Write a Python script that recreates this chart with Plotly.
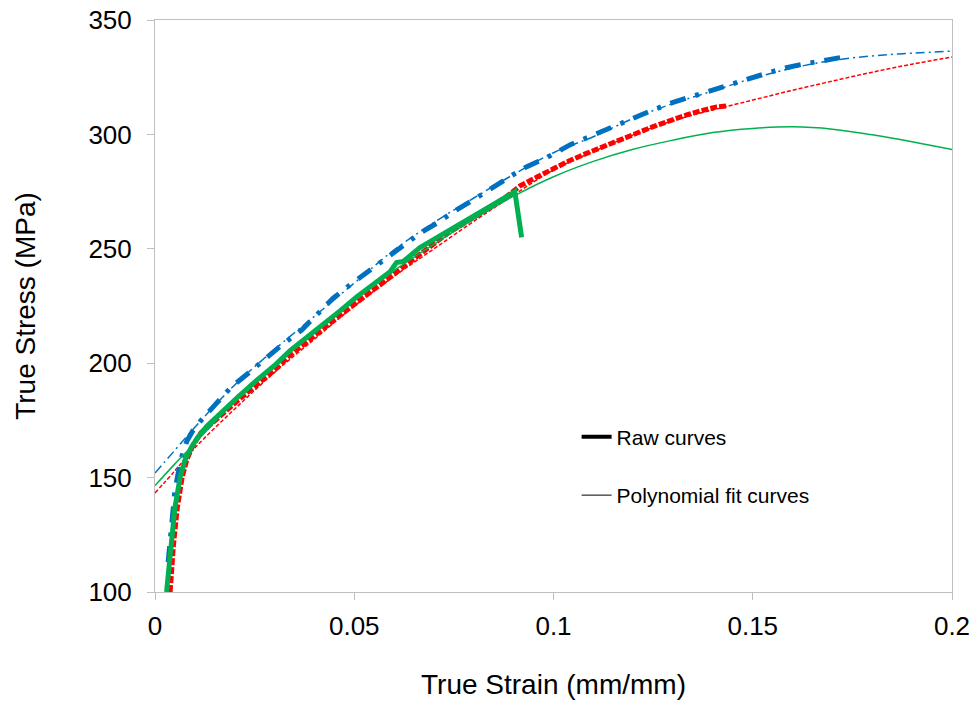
import plotly.graph_objects as go

# ---------- data ----------
green_raw_x = [0.0029, 0.0039, 0.0050, 0.0063, 0.0075, 0.0092, 0.0109, 0.0130, 0.0171, 0.0210,
               0.0255, 0.0300, 0.0339, 0.0380, 0.0422, 0.0465, 0.0506, 0.0550, 0.0590, 0.0606,
               0.0623, 0.0665, 0.0700, 0.0732, 0.0760, 0.0790, 0.0815, 0.0840, 0.0870, 0.0899,
               0.0903, 0.0920]
green_raw_y = [100, 120, 137, 150, 157.5, 163.5, 168, 172.5, 179.5, 185.5,
               192.5, 199, 205.5, 211, 217, 223, 229, 234.5, 240, 244,
               244.5, 250.5, 254, 257.5, 260, 263, 265.5, 268.5, 271, 274.5,
               275, 255]

red_raw_x = [0.0038, 0.0046, 0.0056, 0.0068, 0.0080, 0.0095, 0.0115, 0.0140, 0.0171, 0.0210,
             0.0255, 0.0300, 0.0339, 0.0380, 0.0422, 0.0465, 0.0506, 0.0550, 0.0590, 0.0630,
             0.0665, 0.0700, 0.0732, 0.0760, 0.0790, 0.0840, 0.0880, 0.0916, 0.0960, 0.1000,
             0.1040, 0.1083, 0.1125, 0.1167, 0.1210, 0.1250, 0.1290, 0.1334, 0.1370, 0.1410,
             0.1438]
red_raw_y = [100, 120, 137, 150, 158, 164, 169.5, 173.5, 178, 184,
             190.5, 197, 203.5, 209.5, 215, 221, 226.5, 232.5, 238, 243.5,
             248, 252.5, 256.5, 259.5, 262.5, 268, 272.5, 277.5, 281.5, 285.3,
             288.5, 291.7, 294.8, 297.6, 300.6, 303.4, 306, 308.5, 310.3, 312,
             312.5]

blue_raw_x = [0.0033, 0.0042, 0.0050, 0.0065, 0.0080, 0.0095, 0.0113, 0.0150, 0.0192, 0.0234,
              0.0275, 0.0318, 0.0368, 0.0410, 0.0447, 0.0489, 0.0530, 0.0573, 0.0620, 0.0665,
              0.0710, 0.0749, 0.0800, 0.0849, 0.0890, 0.0933, 0.0990, 0.1041, 0.1095, 0.1150,
              0.1200, 0.1250, 0.1300, 0.1359, 0.1410, 0.1460, 0.1515, 0.1570, 0.1620, 0.1670,
              0.1700, 0.1727]
blue_raw_y = [113, 130, 144.5, 158, 166, 170.5, 174.5, 181.7, 189.7, 195.6,
              202, 208, 214.5, 221.5, 228.4, 234.2, 239.5, 245.1, 251, 256.8,
              261.5, 266.2, 271.5, 277.1, 281.5, 285.9, 290.5, 295.4, 299.5, 303.4,
              307, 310.7, 314, 317.2, 320, 322.9, 325.8, 328.6, 330.5, 332,
              332.5, 333.8]

fit_x = [0.0, 0.005, 0.01, 0.02, 0.03, 0.04, 0.05, 0.06, 0.07, 0.08, 0.09, 0.10,
         0.11, 0.12, 0.13, 0.14, 0.15, 0.16, 0.17, 0.18, 0.19, 0.20]
green_fit_y = [146.5, 156, 165, 183.5, 199.5, 214, 228, 240.5, 252, 263, 273, 281.5,
               288.2, 293.5, 297.5, 300.8, 302.6, 303.3, 302.3, 299.8, 296.8, 293.4]
red_fit_y = [143.3, 153, 163, 180, 196, 210.5, 225, 238, 250, 262, 273.5, 284.5,
             292.5, 299.8, 306, 310.7, 315, 319.3, 323.3, 327.2, 330.7, 333.8]
blue_fit_y = [152, 162, 172, 190.5, 206, 220.5, 235, 249.5, 261.5, 272.2, 282.5, 292,
              299, 307, 313.5, 319, 324.5, 329, 332.3, 334.3, 335.5, 336.4]

x_ticks = [0, 0.05, 0.1, 0.15, 0.2]
x_tick_text = ["0", "0.05", "0.1", "0.15", "0.2"]
y_ticks = [100, 150, 200, 250, 300, 350]

BLUE = "#0070C0"
RED = "#FF0000"
GREEN = "#00B050"
FONT = "Liberation Sans, Arial, sans-serif"

fig = go.Figure()

# fitted curves (thin)
fig.add_trace(go.Scatter(x=fit_x, y=blue_fit_y, mode="lines", line_shape="spline",
                         line=dict(color=BLUE, width=1.5, dash="9px,4px,2px,4px"),
                         showlegend=False, hoverinfo="skip"))
fig.add_trace(go.Scatter(x=fit_x, y=red_fit_y, mode="lines", line_shape="spline",
                         line=dict(color=RED, width=1.5, dash="4px,2px"),
                         showlegend=False, hoverinfo="skip"))
# raw curves (thick)
fig.add_trace(go.Scatter(x=blue_raw_x, y=blue_raw_y, mode="lines",
                         line=dict(color=BLUE, width=5, dash="16px,10px,4px,10px"),
                         showlegend=False))
fig.add_trace(go.Scatter(x=red_raw_x, y=red_raw_y, mode="lines",
                         line=dict(color=RED, width=5, dash="7px,2px"),
                         showlegend=False))
fig.add_trace(go.Scatter(x=fit_x, y=green_fit_y, mode="lines", line_shape="spline",
                         line=dict(color=GREEN, width=1.5),
                         showlegend=False, hoverinfo="skip"))
fig.add_trace(go.Scatter(x=green_raw_x, y=green_raw_y, mode="lines",
                         line=dict(color=GREEN, width=5),
                         showlegend=False))

# legend entries
fig.add_trace(go.Scatter(x=[None], y=[None], mode="lines", name="Raw curves",
                         line=dict(color="black", width=4), legendgroup="a"))
fig.add_trace(go.Scatter(x=[None], y=[None], mode="lines", name="Polynomial fit curves",
                         line=dict(color="black", width=1), legendgroup="b"))

axis_common = dict(showline=True, linecolor="#BFBFBF", linewidth=1, mirror=True,
                   ticks="outside", tickcolor="#BFBFBF", ticklen=7, showgrid=False,
                   zeroline=False, automargin=False,
                   tickfont=dict(family=FONT, size=26, color="black"))

fig.update_layout(
    width=978, height=706,
    margin=dict(l=155, r=26, t=20, b=114),
    paper_bgcolor="white", plot_bgcolor="white",
    font=dict(family=FONT, color="black"),
    showlegend=True,
    legend=dict(x=0.529, y=0.3065, xanchor="left", yanchor="top",
                font=dict(family=FONT, size=21), tracegroupgap=28,
                bgcolor="rgba(0,0,0,0)", itemwidth=30),
    xaxis=dict(range=[0, 0.2], tickvals=x_ticks, ticktext=x_tick_text,
               ticklabelstandoff=4,
               title=dict(text="True Strain (mm/mm)", font=dict(family=FONT, size=28), standoff=34),
               **axis_common),
    yaxis=dict(range=[100, 350], tickvals=y_ticks, ticklabelstandoff=10,
               title=dict(text="True Stress (MPa)", font=dict(family=FONT, size=28), standoff=44),
               **axis_common),
)

fig.write_html("out.html")
